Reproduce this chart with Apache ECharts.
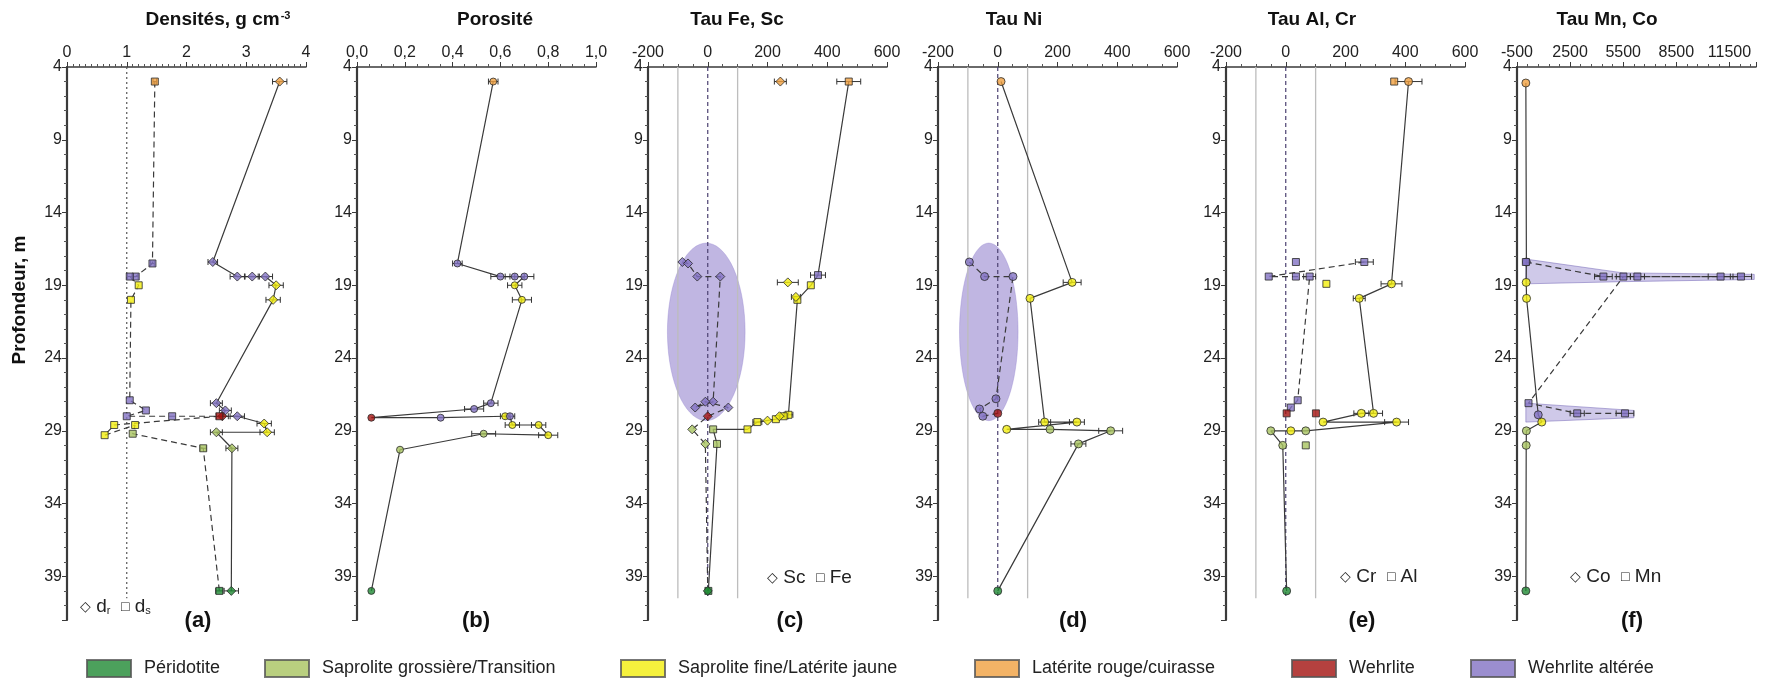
<!DOCTYPE html>
<html>
<head>
<meta charset="utf-8">
<style>html,body{margin:0;padding:0;background:#fff}#c{width:1789px;height:687px}</style>
<script src="https://cdn.jsdelivr.net/npm/echarts@6/dist/echarts.min.js"></script>
</head>
<body>
<div id="c"></div>
<script>
// ---------------- DATA ----------------
const FACIES = ['Péridotite','Saprolite grossière/Transition','Saprolite fine/Latérite jaune','Latérite rouge/cuirasse','Wehrlite','Wehrlite altérée'];
const FACIES_COLORS = ['#1f8a33','#a8c35f','#f2ee0c','#f0a040','#a2110f','#8272c3'];

const PANEL_TITLES = ['Densités, g cm{sup|-3}','Porosité','Tau Fe, Sc','Tau Ni','Tau Al, Cr','Tau Mn, Co'];
const PANEL_LETTERS = ['(a)','(b)','(c)','(d)','(e)','(f)'];
const DEPTH_TICKS = [4, 42, 5];          // min, max, interval
const X_RANGES = [[0,4,1],[0,1,0.2],[-200,600,200],[-200,600,200],[-200,600,200],[-500,13000,3000]];

// (a) densities
const drDepth  = [5.0, 17.4, 18.4, 18.4, 18.4, 19.0, 20.0, 27.1, 27.6, 28.0, 28.0, 28.5, 29.1, 29.1, 30.2, 40.0];
const drValue  = [3.56, 2.44, 2.85, 3.10, 3.32, 3.50, 3.45, 2.50, 2.65, 2.60, 2.85, 3.30, 3.35, 2.50, 2.76, 2.75];
const drFacies = [3, 5, 5, 5, 5, 2, 2, 5, 5, 4, 5, 2, 2, 1, 1, 0];
const drErr    = [0.12, 0.08, 0.12, 0.12, 0.12, 0.12, 0.12, 0.1, 0.1, 0.1, 0.12, 0.12, 0.12, 0.1, 0.1, 0.12];
const dsDepth  = [5.0, 17.5, 18.4, 18.4, 19.0, 20.0, 26.9, 27.6, 28.0, 28.0, 28.0, 28.6, 29.3, 28.6, 29.2, 30.2, 40.0];
const dsValue  = [1.47, 1.43, 1.15, 1.05, 1.20, 1.07, 1.05, 1.32, 1.00, 1.76, 2.55, 0.79, 0.63, 1.14, 1.10, 2.28, 2.55];
const dsFacies = [3, 5, 5, 5, 2, 2, 5, 5, 5, 5, 4, 2, 2, 2, 1, 1, 0];
const dsErr    = [0.03, 0.03, 0.04, 0.04, 0, 0, 0, 0, 0, 0, 0, 0, 0, 0, 0, 0.05, 0.06];

// (b) porosity
const porDepth  = [5.0, 17.5, 18.4, 18.4, 18.4, 19.0, 20.0, 27.1, 27.5, 28.1, 28.1, 28.0, 28.0, 28.6, 28.6, 29.3, 29.2, 30.3, 40.0];
const porValue  = [0.57, 0.42, 0.60, 0.66, 0.70, 0.66, 0.69, 0.56, 0.49, 0.06, 0.35, 0.62, 0.64, 0.65, 0.76, 0.80, 0.53, 0.18, 0.06];
const porFacies = [3, 5, 5, 5, 5, 2, 2, 5, 5, 4, 5, 2, 5, 2, 2, 2, 1, 1, 0];
const porErr    = [0.02, 0.02, 0.04, 0.04, 0.04, 0.03, 0.04, 0.03, 0.04, 0, 0, 0.02, 0.02, 0.03, 0.03, 0.04, 0.05, 0, 0];

// (c) Tau Fe, Sc
const feDepth  = [5.0, 18.3, 19.0, 20.0, 27.9, 28.0, 28.2, 28.4, 28.9, 28.9, 29.9, 40.0];
const feValue  = [472, 369, 345, 300, 270, 254, 228, 166, 133, 18, 31, 2];
const feFacies = [3, 5, 2, 2, 2, 2, 2, 2, 2, 1, 1, 0];
const feErr    = [40, 25, 0, 0, 15, 15, 0, 15, 0, 0, 0, 0];
const scDepth  = [17.4, 17.5, 18.4, 18.4, 27.0, 27.4, 27.0, 27.4, 28.0, 28.9, 29.9, 40.0];
const scValue  = [-85, -66, -35, 42, 18, -42, -8, 69, 0, -52, -8, 0];
const scFacies = [5, 5, 5, 5, 5, 5, 5, 5, 4, 1, 1, 0];
const sc2Depth  = [5.0, 18.8, 19.8, 28.0, 28.3];
const sc2Value  = [243, 268, 295, 240, 200];
const sc2Facies = [3, 2, 2, 2, 2];
const sc2Err    = [20, 35, 15, 0, 0];

// (d) Tau Ni
const niDepth  = [5.0, 18.8, 19.9, 28.4, 28.4, 28.9, 28.9, 29.0, 29.9, 40.0];
const niValue  = [11, 249, 108, 157, 265, 30, 175, 378, 270, 0];
const niFacies = [3, 2, 2, 2, 2, 2, 1, 1, 1, 0];
const niErr    = [0, 30, 0, 20, 25, 0, 0, 40, 25, 0];
const ni2Depth  = [17.4, 18.4, 18.4, 26.8, 27.5, 28.0, 27.8];
const ni2Value  = [-95, -44, 51, -6, -61, -50, 0];
const ni2Facies = [5, 5, 5, 5, 5, 5, 4];

// (e) Tau Al, Cr
const crDepth  = [5.0, 18.9, 19.9, 27.8, 27.8, 28.4, 28.4, 29.0, 29.0, 29.0, 30.0, 40.0];
const crValue  = [411, 354, 246, 294, 253, 125, 371, 67, 17, -50, -10, 3];
const crFacies = [3, 2, 2, 2, 2, 2, 2, 1, 2, 1, 1, 0];
const crErr    = [45, 35, 20, 30, 25, 0, 40, 0, 0, 0, 0, 0];
const alDepth  = [17.4, 18.4, 18.4, 18.4, 26.9, 27.4, 27.8];
const alValue  = [263, -57, 34, 80, 40, 17, 3];
const alFacies = [5, 5, 5, 5, 5, 5, 4];
const alErr    = [30, 0, 0, 20, 0, 0, 0];
const al2Depth  = [5.0, 17.4, 18.9, 27.8, 30.0];
const al2Value  = [363, 34, 136, 101, 67];
const al2Facies = [3, 5, 2, 4, 1];

// (f) Tau Mn, Co
const coDepth  = [5.1, 17.4, 18.8, 19.9, 27.9, 28.4, 29.0, 30.0, 40.0];
const coValue  = [0, 30, 20, 40, 700, 900, 30, 20, 0];
const coFacies = [3, 5, 2, 2, 5, 2, 1, 1, 0];
const mnDepth  = [17.4, 18.4, 18.4, 18.4, 18.4, 18.4, 27.1, 27.8, 27.8];
const mnValue  = [0, 4380, 11000, 12150, 6300, 5510, 150, 2900, 5600];
const mnFacies = [5, 5, 5, 5, 5, 5, 5, 5, 5];
const mnErr    = [0, 500, 700, 600, 400, 400, 0, 400, 500];
const mnBands = [
  [[0,17.2],[5500,18.15],[12900,18.25],[12900,18.6],[5500,18.75],[0,18.9]],
  [[0,27.1],[6100,27.6],[6100,28.1],[0,28.4]]
];

// Wehrlite altérée ellipses (panel, centre value, centre depth, half-width, half-height)
const ellPanel = [2, 3];
const ellCentre = [[-5, 22.2], [-30, 22.2]];
const ellRadius = [[130, 6.1], [98, 6.1]];

// reference lines
const refDepthRange = [4, 40.5];
const refDotted = [[0, 1]];                    // [panel, value]
const refDashed = [[2, 0], [3, 0], [4, 0]];
const refGray   = [[2, -100], [2, 100], [3, -100], [3, 100], [4, -100], [4, 100]];

// ---------------- LAYOUT ----------------
const FONT = "'Liberation Sans', Arial, sans-serif";
const PANEL_LEFT = [67, 357, 648, 938, 1226, 1517];
const PANEL_W = 239, PANEL_TOP = 67, PANEL_H = 553;
const TITLE_X = [218, 495, 737, 1014, 1312, 1607];
const LETTER_X = [198, 476, 790, 1073, 1362, 1632];
const LEGEND_LEFT = [86, 264, 620, 974, 1291, 1470];
const MINOR_SPLIT = [10, 4, 4, 4, 4, 5];

const seriesDefs = [
  {p:0, dep:drDepth, val:drValue, fac:drFacies, err:drErr, line:'solid', sym:'diamond', size:9},
  {p:0, dep:dsDepth, val:dsValue, fac:dsFacies, err:dsErr, line:'dashed', sym:'rect', size:7},
  {p:1, dep:porDepth, val:porValue, fac:porFacies, err:porErr, line:'solid', sym:'circle', size:7},
  {p:2, dep:feDepth, val:feValue, fac:feFacies, err:feErr, line:'solid', sym:'rect', size:7},
  {p:2, dep:scDepth, val:scValue, fac:scFacies, err:null, line:'dashed', sym:'diamond', size:9},
  {p:2, dep:sc2Depth, val:sc2Value, fac:sc2Facies, err:sc2Err, line:'none', sym:'diamond', size:9},
  {p:3, dep:niDepth, val:niValue, fac:niFacies, err:niErr, line:'solid', sym:'circle', size:8},
  {p:3, dep:ni2Depth, val:ni2Value, fac:ni2Facies, err:null, line:'dashed', sym:'circle', size:8},
  {p:4, dep:crDepth, val:crValue, fac:crFacies, err:crErr, line:'solid', sym:'circle', size:8},
  {p:4, dep:alDepth, val:alValue, fac:alFacies, err:alErr, line:'dashed', sym:'rect', size:7},
  {p:4, dep:al2Depth, val:al2Value, fac:al2Facies, err:null, line:'none', sym:'rect', size:7},
  {p:5, dep:coDepth, val:coValue, fac:coFacies, err:null, line:'solid', sym:'circle', size:8},
  {p:5, dep:mnDepth, val:mnValue, fac:mnFacies, err:mnErr, line:'dashed', sym:'rect', size:7}
];

// ---------------- BUILD ----------------
const grid = PANEL_LEFT.map(l => ({left:l, top:PANEL_TOP, width:PANEL_W, height:PANEL_H}));
const fmtX = [v=>String(v), v=>v.toFixed(1).replace('.', ','), v=>String(v), v=>String(v), v=>String(v), v=>String(v)];
const xAxis = X_RANGES.map((r,i)=>({
  gridIndex:i, type:'value', position:'top', min:r[0], max:r[1], interval:r[2],
  axisLine:{show:true, onZero:false, lineStyle:{color:'#3a3a3a', width:1.5}},
  axisTick:{show:true, length:5, lineStyle:{color:'#3a3a3a', width:1}},
  minorTick:{show:true, splitNumber:MINOR_SPLIT[i], length:3, lineStyle:{color:'#555'}},
  splitLine:{show:false}, minorSplitLine:{show:false},
  axisLabel:{fontSize:16, color:'#222', fontFamily:FONT, margin:6, formatter:fmtX[i], showMaxLabel: i !== 5}
}));
const yAxis = PANEL_LEFT.map((l,i)=>({
  gridIndex:i, type:'value', inverse:true, min:DEPTH_TICKS[0], max:DEPTH_TICKS[1], interval:DEPTH_TICKS[2],
  axisLine:{show:true, onZero:false, lineStyle:{color:'#3a3a3a', width:2.2}},
  axisTick:{show:true, length:5, lineStyle:{color:'#3a3a3a'}},
  minorTick:{show:true, splitNumber:5, length:3, lineStyle:{color:'#555'}},
  splitLine:{show:false},
  axisLabel:{fontSize:16, color:'#222', fontFamily:FONT, margin:5, showMaxLabel:false}
}));

const series = [];
const ax = p => ({xAxisIndex:p, yAxisIndex:p});

// ellipses
ellPanel.forEach((p,k)=>{
  series.push(Object.assign(ax(p), {
    type:'custom', silent:true, z:1,
    data:[[ellCentre[k][0], ellCentre[k][1], ellRadius[k][0], ellRadius[k][1]]],
    renderItem:(params, api)=>{
      const cx=api.value(0), cy=api.value(1), rx=api.value(2), ry=api.value(3);
      const pts=[];
      for(let t=0;t<72;t++){const a=t/72*Math.PI*2; pts.push(api.coord([cx+rx*Math.cos(a), cy+ry*Math.sin(a)]));}
      return {type:'polygon', shape:{points:pts}, style:{fill:'rgba(140,122,202,0.55)', stroke:'rgba(140,122,202,0.35)', lineWidth:1}};
    }
  }));
});
// Mn bands
series.push(Object.assign(ax(5), {
  type:'custom', silent:true, z:1,
  data: mnBands.map((b,i)=>[b[0][0], b[0][1], i]),
  renderItem:(params, api)=>{
    const b = mnBands[api.value(2)];
    return {type:'polygon', shape:{points:b.map(q=>api.coord(q))}, style:{fill:'rgba(135,120,200,0.4)', stroke:'rgba(110,95,180,0.5)', lineWidth:1}};
  }
}));
// reference lines
const refLine = (arr, style) => arr.forEach(([p,v])=>{
  series.push(Object.assign(ax(p), {type:'line', silent:true, z:2, symbol:'none', animation:false,
    data:[[v, refDepthRange[0]], [v, refDepthRange[1]]], lineStyle:style}));
});
refLine(refDotted, {color:'#555', width:1.2, type:[2,3]});
refLine(refDashed, {color:'#4a4070', width:1.2, type:[4,3]});
refLine(refGray, {color:'#bdbdbd', width:1.3, type:'solid'});

seriesDefs.forEach(s=>{
  const pts = s.dep.map((d,i)=>[s.val[i], d]);
  if (s.line !== 'none') {
    series.push(Object.assign(ax(s.p), {type:'line', silent:true, z:3, symbol:'none', data:pts,
      lineStyle:{color:'#3a3a3a', width:1.2, type: s.line==='dashed' ? [6,4] : 'solid'}}));
  }
  if (s.err) {
    series.push(Object.assign(ax(s.p), {type:'custom', silent:true, z:4,
      data: s.dep.map((d,i)=>[s.val[i], d, s.err[i]]).filter(r=>r[2]>0),
      renderItem:(params, api)=>{
        const v=api.value(0), d=api.value(1), e=api.value(2);
        const a=api.coord([v-e,d]), b=api.coord([v+e,d]); const h=3;
        const st={stroke:'#333', lineWidth:1};
        return {type:'group', children:[
          {type:'line', shape:{x1:a[0],y1:a[1],x2:b[0],y2:b[1]}, style:st},
          {type:'line', shape:{x1:a[0],y1:a[1]-h,x2:a[0],y2:a[1]+h}, style:st},
          {type:'line', shape:{x1:b[0],y1:b[1]-h,x2:b[0],y2:b[1]+h}, style:st}
        ]};
      }}));
  }
  series.push(Object.assign(ax(s.p), {type:'scatter', z:5, symbol:s.sym, symbolSize:s.size,
    itemStyle:{borderColor:'#2b2b2b', borderWidth:1},
    data: pts.map((q,i)=>({value:q, itemStyle:{color:FACIES_COLORS[s.fac[i]]}}))}));
});
// legend dummy series
FACIES.forEach((f,i)=>series.push({type:'scatter', name:f, data:[], xAxisIndex:0, yAxisIndex:0,
  itemStyle:{color:FACIES_COLORS[i], borderColor:'#555', borderWidth:1}}));

const legend = FACIES.map((f,i)=>({
  data:[f], left:LEGEND_LEFT[i], top:659, padding:0, orient:'horizontal', selectedMode:false,
  icon:'rect', itemWidth:44, itemHeight:17,
  textStyle:{fontSize:18, color:'#222', fontFamily:FONT, padding:[0,0,0,8]}
}));

const graphic = [];
PANEL_TITLES.forEach((t,i)=>graphic.push({type:'text', x:TITLE_X[i], y:20, silent:true,
  style:{text:t, font:'bold 19px '+FONT, fill:'#111', align:'center', verticalAlign:'middle', textAlign:'center', textVerticalAlign:'middle',
    rich:{sup:{fontSize:11, fontWeight:'bold', verticalAlign:'top', fill:'#111', padding:[0,0,9,1]}}}}));
PANEL_LETTERS.forEach((t,i)=>graphic.push({type:'text', x:LETTER_X[i], y:621, silent:true,
  style:{text:t, font:'bold 22px '+FONT, fill:'#111', align:'center', verticalAlign:'middle', textAlign:'center', textVerticalAlign:'middle'}}));
const miniLegends = [
  ['{s|◇} d{sub|r}  {s|□} d{sub|s}', 80, 607],
  ['{s|◇} Sc  {s|□} Fe', 767, 578],
  ['{s|◇} Cr  {s|□} Al', 1340, 577],
  ['{s|◇} Co  {s|□} Mn', 1570, 577]
];
miniLegends.forEach(([t,x,y])=>graphic.push({type:'text', x, y, silent:true,
  style:{text:t, font:'19px '+FONT, fill:'#222', align:'left', verticalAlign:'middle', textAlign:'left', textVerticalAlign:'middle',
    rich:{s:{fontSize:14, fill:'#222'}, sub:{fontSize:11, fill:'#222', verticalAlign:'bottom', padding:[7,0,0,0]}}}}));
graphic.push({type:'text', x:20, y:300, rotation:Math.PI/2, silent:true,
  style:{text:'Profondeur, m', font:'bold 19px '+FONT, fill:'#111', align:'center', verticalAlign:'middle', textAlign:'center', textVerticalAlign:'middle'}});

const chart = echarts.init(document.getElementById('c'), null, {renderer:'canvas'});
chart.setOption({backgroundColor:'#fff', animation:false, grid, xAxis, yAxis, series, legend, graphic});
</script>
</body>
</html>
